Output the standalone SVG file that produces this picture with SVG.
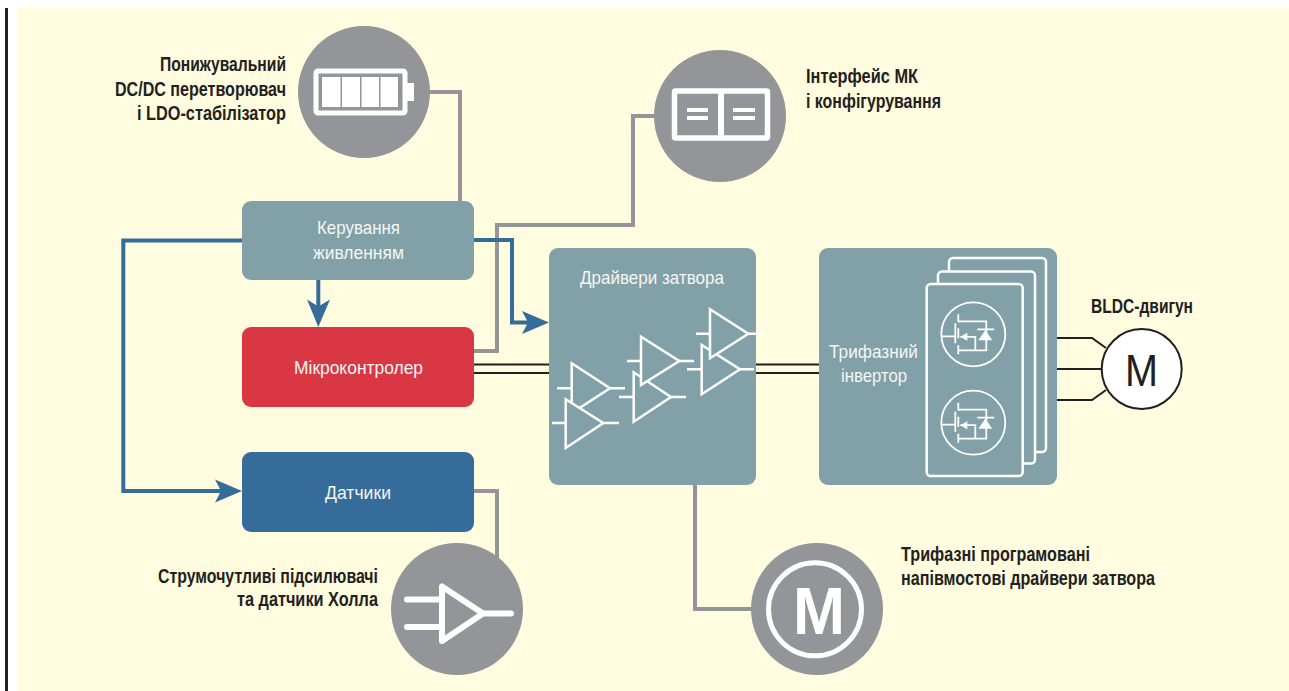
<svg xmlns="http://www.w3.org/2000/svg" width="1289" height="691" viewBox="0 0 1289 691">
<style>
.bg{fill:#fffcdf}
.box{fill:#82a0a7}
.circ{fill:#939598}
.g{fill:none;stroke:#939598;stroke-width:4}
.b{fill:none;stroke:#366c9a;stroke-width:4}
.k{fill:none;stroke:#231f20;stroke-width:2}
.ah{fill:#366c9a}
.w{fill:none;stroke:#fff;stroke-width:2.5}
.tri{fill:#82a0a7;stroke:#fff;stroke-width:2.5}
.card{fill:#82a0a7;stroke:#fff;stroke-width:2.5}
.m{fill:none;stroke:#fff;stroke-width:1.8}
.wf{fill:#fff}
text{font-family:"Liberation Sans",Arial,sans-serif}
.l{font-size:19px;fill:#f4f7f4}
.t{font-size:20px;font-weight:bold;fill:#231f20}
</style>
<defs>
<g id="fet">
<circle class="m" r="32"/>
<path class="m" d="M-32 2H-18M-18-11V9M-15-20V-12M-15-6V4M-15 11V20M-15-13H13V16H-15M-13 2.500H2V16M4-5H21"/>
<path class="wf" d="M-13 2.500L-6-1.500V6.500Z"/>
<path class="wf" d="M12-4L5 6H19Z"/>
</g>
</defs>
<rect id="background" class="bg" x="18" y="8" width="1271" height="683"/>
<rect id="edge-bar" x="5" y="8" width="3" height="683" fill="#231f20"/>
<g id="connectors">
<path class="g" d="M428 92H460V203"/>
<path class="g" d="M472 351H497V225H633V116H656"/>
<path class="g" d="M472 491H497V560"/>
<path class="g" d="M695 483V609H753"/>
<path class="b" d="M474 240H512V322.500H530"/>
<path class="ah" d="M549 322.500L522 311L528 322.500L522 334Z"/>
<path class="b" d="M242 240.500H123.300V491H225"/>
<path class="ah" d="M242 491L215 479.500L221 491L215 502.500Z"/>
<path class="b" d="M318.300 280V310"/>
<path class="ah" d="M318.300 327L307 299.500L318.300 306.500L330 299.500Z"/>
<path class="k" d="M474 364.500H549M474 373H549M756 364.500H819M756 373H819"/>
<path class="k" d="M1057 338H1092L1106 348M1057 369H1102M1057 400H1092L1106 390"/>
</g>
<g id="power-control">
<rect class="box" x="242" y="201" width="232" height="79" rx="9"/>
<text class="l" x="317" y="234" textLength="83" lengthAdjust="spacingAndGlyphs">Керування</text>
<text class="l" x="313" y="259" textLength="91" lengthAdjust="spacingAndGlyphs">живленням</text>
</g>
<g id="microcontroller">
<rect x="242" y="327" width="232" height="80" rx="9" fill="#d93744"/>
<text class="l" x="294" y="374" textLength="129" lengthAdjust="spacingAndGlyphs">Мікроконтролер</text>
</g>
<g id="sensors">
<rect x="242" y="452" width="232" height="80" rx="9" fill="#366c9a"/>
<text class="l" x="325" y="499" textLength="66" lengthAdjust="spacingAndGlyphs">Датчики</text>
</g>
<g id="gate-drivers">
<rect class="box" x="549" y="248" width="207" height="237" rx="9"/>
<text class="l" x="580" y="284" textLength="144" lengthAdjust="spacingAndGlyphs">Драйвери затвора</text>
<path class="w" d="M557 388.300H572M610 388.300H625M552 423H566M603 423H619M627 361H641M679 361H694M619 397H634M671 397H686M696 333.700H710M748 333.700H763M687 369.300H702M740 369.300H754"/>
<path class="tri" d="M571.700 363.300V413L610 388.300Z"/>
<path class="tri" d="M565.700 399.300V448L603.300 423Z"/>
<path class="tri" d="M633.700 372.300V421.700L671 397Z"/>
<path class="tri" d="M641 336.700V385L679.300 361Z"/>
<path class="tri" d="M701.700 345V394.300L740 369.300Z"/>
<path class="tri" d="M710 309.300V358.300L748.300 333.700Z"/>
</g>
<g id="inverter">
<rect class="box" x="819" y="248" width="238" height="237" rx="9"/>
<text class="l" x="829" y="357.500" textLength="89" lengthAdjust="spacingAndGlyphs">Трифазний</text>
<text class="l" x="841" y="381.500" textLength="66" lengthAdjust="spacingAndGlyphs">інвертор</text>
<rect class="card" x="949" y="258" width="97" height="194" rx="4"/>
<rect class="card" x="938" y="271.500" width="97" height="192" rx="4"/>
<rect class="card" x="926.700" y="284" width="96" height="192" rx="4"/>
<use href="#fet" x="973.300" y="334.300"/>
<use href="#fet" x="973.300" y="422.700"/>
</g>
<g id="motor">
<circle cx="1141.700" cy="369" r="40" fill="#fff" stroke="#231f20" stroke-width="2"/>
<text x="1125" y="385.500" font-size="45" fill="#231f20" textLength="33" lengthAdjust="spacingAndGlyphs">M</text>
<text class="t" x="1091" y="313" textLength="102" lengthAdjust="spacingAndGlyphs">BLDC-двигун</text>
</g>
<g id="regulator">
<circle class="circ" cx="364" cy="92" r="66"/>
<rect x="316" y="71" width="89" height="42" rx="2" fill="none" stroke="#fff" stroke-width="5"/>
<path class="wf" d="M322 77H340.500V107H322ZM342 77H360V107H342ZM361.500 77H379V107H361.500ZM380.500 77H398V107H380.500ZM407 83H414V101H407Z"/>
<text class="t" x="160" y="71" textLength="126" lengthAdjust="spacingAndGlyphs">Понижувальний</text>
<text class="t" x="115" y="96" textLength="171" lengthAdjust="spacingAndGlyphs">DC/DC перетворювач</text>
<text class="t" x="137" y="120" textLength="149" lengthAdjust="spacingAndGlyphs">і LDO-стабілізатор</text>
</g>
<g id="mcu-interface">
<circle class="circ" cx="720" cy="116" r="66"/>
<rect x="674.500" y="91" width="93" height="47" rx="1" fill="none" stroke="#fff" stroke-width="5.500"/>
<path class="wf" d="M718 91H724V138H718ZM687 108H708V112H687ZM687 116H708V120H687ZM733 108H755V112H733ZM733 116H755V120H733Z"/>
<text class="t" x="806" y="83" textLength="112" lengthAdjust="spacingAndGlyphs">Інтерфейс МК</text>
<text class="t" x="806" y="108" textLength="135" lengthAdjust="spacingAndGlyphs">і конфігурування</text>
</g>
<g id="current-sense">
<circle class="circ" cx="457" cy="609" r="66"/>
<path d="M442 586.500V641L483 613.500Z M407 599.500H442M407 627H442M483 613.500H511" fill="none" stroke="#fff" stroke-width="6" stroke-linecap="round" stroke-linejoin="round"/>
<text class="t" x="158" y="582.500" textLength="220" lengthAdjust="spacingAndGlyphs">Струмочутливі підсилювачі</text>
<text class="t" x="237" y="605.500" textLength="141" lengthAdjust="spacingAndGlyphs">та датчики Холла</text>
</g>
<g id="half-bridge-driver">
<circle class="circ" cx="817" cy="609" r="66"/>
<circle cx="815" cy="609.300" r="46.500" fill="none" stroke="#fff" stroke-width="5"/>
<text x="793" y="633.500" font-size="67" font-weight="bold" fill="#fff" textLength="52" lengthAdjust="spacingAndGlyphs">M</text>
<text class="t" x="901" y="561" textLength="189" lengthAdjust="spacingAndGlyphs">Трифазні програмовані</text>
<text class="t" x="901" y="585" textLength="254" lengthAdjust="spacingAndGlyphs">напівмостові драйвери затвора</text>
</g>
</svg>
